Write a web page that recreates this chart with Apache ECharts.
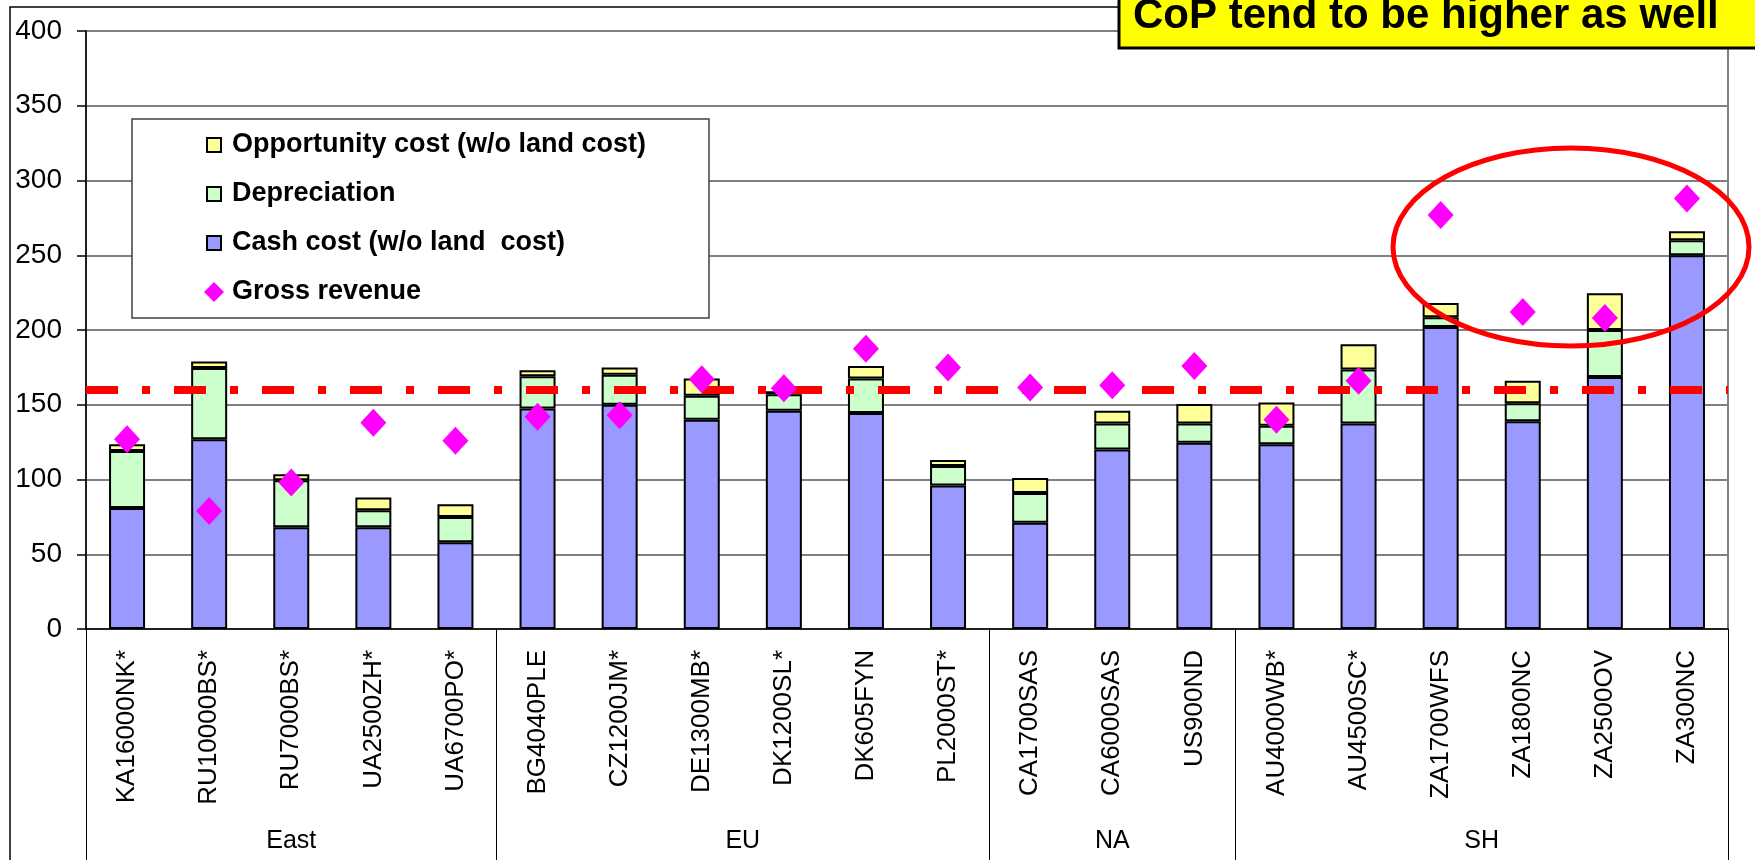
<!DOCTYPE html>
<html>
<head>
<meta charset="utf-8">
<title>Cost of production vs gross revenue</title>
<script src="https://cdn.jsdelivr.net/npm/echarts@6/dist/echarts.min.js"></script>
<style>
  html, body { margin: 0; padding: 0; background: #fff; }
  #chart { width: 1755px; height: 860px; }
</style>
</head>
<body>
<div id="chart"></div>
<script>
// farms, left to right
var categories = ['KA16000NK*', 'RU10000BS*', 'RU7000BS*', 'UA2500ZH*', 'UA6700PO*',
  'BG4040PLE', 'CZ1200JM*', 'DE1300MB*', 'DK1200SL*', 'DK605FYN', 'PL2000ST*',
  'CA1700SAS', 'CA6000SAS', 'US900ND',
  'AU4000WB*', 'AU4500SC*', 'ZA1700WFS', 'ZA1800NC', 'ZA2500OV', 'ZA300NC']

// regions and how many farms each holds
var groups = ['East', 'EU', 'NA', 'SH']
var groupSizes = [5, 6, 3, 6]

var cashCost = [81, 127, 68, 68, 58, 147.5, 150, 140, 146, 144.5, 96, 71, 120, 124.5, 123.5, 137.5, 202, 139, 168.5, 250]
var depreciation = [38, 47.5, 31.5, 11.5, 17, 21.5, 20, 16, 11, 23, 13, 20, 17.5, 13, 12.5, 36, 6.5, 12, 31.5, 10]
var opportunityCost = [4.5, 4.5, 4, 8.5, 8.5, 4, 5, 11.5, 2, 8.5, 4, 10, 8.5, 13, 15.5, 17, 9.5, 15, 24.5, 6]
var grossRevenue = [127, 79, 98, 138, 126, 142, 143, 167, 161, 187.5, 175, 161.5, 163, 176, 140, 166, 277, 212, 208, 288]

var threshold = 160
var yTicks = [0, 400, 50] // min, max, step

var font = 'Liberation Sans, Arial, Helvetica, sans-serif'

// group boundaries and centres on a 0..N scale
var groupBounds = [0]
var groupCenters = []
groupSizes.forEach(function (n, i) {
  var start = groupBounds[i]
  groupBounds.push(start + n)
  groupCenters.push(start + n / 2)
})

var chart = echarts.init(document.getElementById('chart'))

var barBorder = { borderColor: '#000', borderWidth: 2 }
// small square inside the 26x26 legend slot (the bare moves keep the slot size)
var squareIcon = 'path://M0,0M26,26M6,6h14v14h-14z'

var option = {
  animation: false,
  backgroundColor: '#fff',
  textStyle: { fontFamily: font },
  grid: {
    left: 86,
    right: 27,
    top: 31,
    bottom: 231,
    show: true,
    borderColor: '#808080',
    borderWidth: 2,
    containLabel: false,
    outerBoundsMode: 'none'
  },
  legend: {
    orient: 'vertical',
    left: 132,
    top: 119,
    padding: [11, 63, 11, 68],
    itemGap: 19,
    itemWidth: 26,
    itemHeight: 26,
    backgroundColor: '#fff',
    borderColor: '#404040',
    borderWidth: 1.5,
    borderRadius: 0,
    selectedMode: false,
    textStyle: {
      fontFamily: font,
      fontSize: 27,
      fontWeight: 'bold',
      color: '#000',
      lineHeight: 30
    },
    data: [
      { name: 'Opportunity cost (w/o land cost)', icon: squareIcon },
      { name: 'Depreciation', icon: squareIcon },
      { name: 'Cash cost (w/o land  cost)', icon: squareIcon },
      { name: 'Gross revenue', icon: 'path://M0,0M26,26M13,3L23,13L13,23L3,13Z' }
    ]
  },
  xAxis: [
    {
      type: 'category',
      data: categories,
      axisLine: { lineStyle: { color: '#000', width: 1.5 } },
      axisTick: { interval: 0, length: 175, lineStyle: { color: '#000', width: 1 } },
      axisLabel: {
        interval: 0,
        rotate: 90,
        margin: 21,
        fontSize: 26,
        color: '#000',
        fontFamily: font
      },
      splitLine: { show: false }
    },
    {
      type: 'value',
      min: 0,
      max: categories.length,
      position: 'bottom',
      axisLine: { show: false },
      axisTick: {
        show: true,
        customValues: groupBounds,
        length: 232,
        lineStyle: { color: '#000', width: 1 }
      },
      axisLabel: {
        customValues: groupCenters,
        margin: 200,
        fontSize: 25,
        color: '#000',
        fontFamily: font,
        formatter: function (v) {
          return groups[groupCenters.indexOf(v)]
        }
      },
      splitLine: { show: false }
    }
  ],
  yAxis: {
    type: 'value',
    min: yTicks[0],
    max: yTicks[1],
    interval: yTicks[2],
    axisLine: { show: true, lineStyle: { color: '#000', width: 1.5 } },
    axisTick: { show: true, length: 9, lineStyle: { color: '#000', width: 1.5 } },
    axisLabel: { fontSize: 28, margin: 24, color: '#000', fontFamily: font },
    splitLine: { lineStyle: { color: '#808080', width: 2 } }
  },
  series: [
    {
      name: 'Cash cost (w/o land  cost)',
      type: 'bar',
      stack: 'cost',
      barWidth: 36,
      itemStyle: Object.assign({ color: '#9999FF' }, barBorder),
      data: cashCost
    },
    {
      name: 'Depreciation',
      type: 'bar',
      stack: 'cost',
      barWidth: 36,
      itemStyle: Object.assign({ color: '#CCFFCC' }, barBorder),
      data: depreciation
    },
    {
      name: 'Opportunity cost (w/o land cost)',
      type: 'bar',
      stack: 'cost',
      barWidth: 36,
      itemStyle: Object.assign({ color: '#FFFF99' }, barBorder),
      data: opportunityCost
    },
    {
      name: 'Gross revenue',
      type: 'scatter',
      symbol: 'diamond',
      symbolSize: [26, 28],
      z: 10,
      itemStyle: { color: '#FF00FF', opacity: 1 },
      data: grossRevenue,
      markLine: {
        silent: true,
        symbol: 'none',
        label: { show: false },
        lineStyle: { color: '#FF0000', width: 8, type: [32, 24, 8, 24] },
        data: [{ yAxis: threshold }]
      }
    }
  ],
  graphic: [
    {
      // outer frame of the slide chart
      type: 'rect',
      z: 0,
      shape: { x: 10, y: 7, width: 2000, height: 2000 },
      style: { fill: null, stroke: '#000', lineWidth: 1.5 }
    },
    {
      type: 'rect',
      z: 100,
      shape: { x: 1119, y: -10, width: 700, height: 58 },
      style: { fill: '#FFFF00', stroke: '#000', lineWidth: 3 }
    },
    {
      type: 'text',
      z: 101,
      x: 1133,
      y: 16,
      style: {
        text: 'CoP tend to be higher as well',
        fill: '#000',
        font: 'bold 42px ' + font,
        verticalAlign: 'middle'
      }
    },
    {
      type: 'ellipse',
      z: 20,
      shape: { cx: 1571, cy: 247, rx: 178, ry: 99 },
      style: { fill: null, stroke: '#FF0000', lineWidth: 5 }
    }
  ]
}

chart.setOption(option)
window.addEventListener('resize', function () {
  chart.resize()
})
</script>
</body>
</html>
